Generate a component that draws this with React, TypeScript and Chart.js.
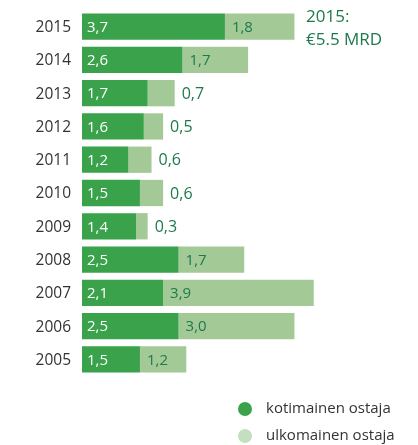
import React, { useEffect, useRef } from "react";
import { Chart, registerables } from "chart.js";

Chart.register(...registerables);

const years = ["2015", "2014", "2013", "2012", "2011", "2010", "2009", "2008", "2007", "2006", "2005"];
const domestic = [3.7, 2.6, 1.7, 1.6, 1.2, 1.5, 1.4, 2.5, 2.1, 2.5, 1.5];
const foreign = [1.8, 1.7, 0.7, 0.5, 0.6, 0.6, 0.3, 1.7, 3.9, 3.0, 1.2];
const seriesNames = ["kotimainen ostaja", "ulkomainen ostaja"];
const annotationLines = ["2015:", "€5.5 MRD"];

const DARK = "#3aa24a";
const LIGHT = "#a3c996";
const LIGHT_LEGEND = "#c3dfc0";
const LABEL_GREEN = "#1d7a4c";
const FONT = "'Open Sans', sans-serif";

const fmt = (v: number) => v.toFixed(1).replace(".", ",");

const labelPlugin = {
  id: "customLabels",
  afterDatasetsDraw(chart: any) {
    const ctx = chart.ctx;
    const x = chart.scales.x;
    const y = chart.scales.y;
    ctx.save();
    ctx.textBaseline = "middle";
    years.forEach((yr, i) => {
      const cy = y.getPixelForValue(i);
      ctx.font = `15.5px ${FONT}`;
      ctx.fillStyle = "#333333";
      ctx.textAlign = "right";
      ctx.fillText(yr, 71, cy + 1);
      const x0 = x.getPixelForValue(0);
      const x1 = x.getPixelForValue(domestic[i]);
      const x2 = x.getPixelForValue(domestic[i] + foreign[i]);
      ctx.textAlign = "left";
      ctx.font = `15px ${FONT}`;
      ctx.fillStyle = "#ffffff";
      ctx.fillText(fmt(domestic[i]), x0 + 5, cy + 1);
      ctx.fillStyle = LABEL_GREEN;
      if (foreign[i] >= 1) {
        ctx.fillText(fmt(foreign[i]), x1 + 7, cy + 1);
      } else {
        ctx.font = `16px ${FONT}`;
        ctx.fillText(fmt(foreign[i]), x2 + 7, cy + 1);
      }
    });
    ctx.font = `17px ${FONT}`;
    ctx.fillStyle = LABEL_GREEN;
    ctx.textAlign = "left";
    ctx.fillText(annotationLines[0], 306, 17);
    ctx.fillText(annotationLines[1], 306, 40);
    const legendColors = [DARK, LIGHT_LEGEND];
    legendColors.forEach((c, k) => {
      const ly = 409 + k * 27;
      ctx.beginPath();
      ctx.arc(245, ly, 7, 0, Math.PI * 2);
      ctx.fillStyle = c;
      ctx.fill();
      ctx.font = `15px ${FONT}`;
      ctx.fillStyle = "#333333";
      ctx.fillText(seriesNames[k], 266, ly);
    });
    ctx.restore();
  },
};

export default function App() {
  const ref = useRef<HTMLCanvasElement | null>(null);
  useEffect(() => {
    if (!ref.current) return;
    const chart = new Chart(ref.current, {
      type: "bar",
      data: {
        labels: years,
        datasets: [
          { label: seriesNames[0], data: domestic, backgroundColor: DARK, borderWidth: 0 },
          { label: seriesNames[1], data: foreign, backgroundColor: LIGHT, borderWidth: 0 },
        ],
      },
      options: {
        indexAxis: "y",
        animation: false,
        responsive: false,
        maintainAspectRatio: false,
        datasets: { bar: { categoryPercentage: 0.79, barPercentage: 1 } },
        layout: { padding: { left: 82, right: 27, top: 10, bottom: 69 } },
        plugins: { legend: { display: false }, tooltip: { enabled: false } },
        scales: {
          x: { stacked: true, display: false, min: 0, max: 8 },
          y: { stacked: true, display: false },
        },
      },
      plugins: [labelPlugin],
    });
    return () => chart.destroy();
  }, []);
  return (
    <div style={{ position: "fixed", left: 0, top: 0, width: 418, height: 445, background: "#fff" }}>
      <canvas ref={ref} width={418} height={445} style={{ width: 418, height: 445 }} />
    </div>
  );
}
